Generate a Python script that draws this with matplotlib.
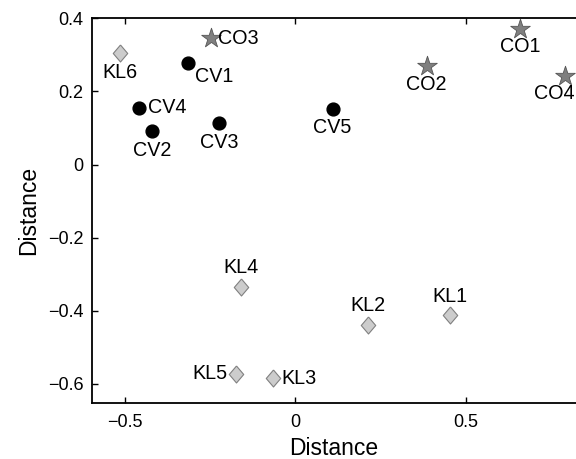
import matplotlib
matplotlib.use("Agg")
import matplotlib.pyplot as plt

plt.rcParams['font.family'] = ['Liberation Sans', 'DejaVu Sans']

cv_names = ["CV1", "CV2", "CV3", "CV4", "CV5"]
cv_x = [-0.316, -0.421, -0.223, -0.458, 0.109]
cv_y = [0.278, 0.092, 0.114, 0.155, 0.153]

co_names = ["CO1", "CO2", "CO3", "CO4"]
co_x = [0.658, 0.385, -0.247, 0.790]
co_y = [0.371, 0.269, 0.345, 0.242]

kl_names = ["KL1", "KL2", "KL3", "KL4", "KL5", "KL6"]
kl_x = [0.453, 0.213, -0.067, -0.161, -0.174, -0.515]
kl_y = [-0.412, -0.439, -0.585, -0.334, -0.572, 0.304]

# label placement: (dx_points, dy_points, ha, va)
place = {
    "CV1": (5, -3, "left", "top"),
    "CV2": (0, -7, "center", "top"),
    "CV3": (0, -7, "center", "top"),
    "CV4": (6, 0, "left", "center"),
    "CV5": (0, -7, "center", "top"),
    "CO1": (0, -6, "center", "top"),
    "CO2": (0, -6, "center", "top"),
    "CO3": (5, 0, "left", "center"),
    "CO4": (7, -6, "right", "top"),
    "KL1": (0, 7, "center", "bottom"),
    "KL2": (0, 7, "center", "bottom"),
    "KL3": (6, 0, "left", "center"),
    "KL4": (0, 7, "center", "bottom"),
    "KL5": (-6, 0, "right", "center"),
    "KL6": (0, -7, "center", "top"),
}

W, H = 576, 459
fig = plt.figure(figsize=(W / 100, H / 100), dpi=100)
left, right = 92 / W, 1.0
bottom, top = 1 - 403 / H, 1 - 18.3 / H
ax = fig.add_axes([left, bottom, right - left, top - bottom])

diamond = [(0, 1), (0.85, 0), (0, -1), (-0.85, 0), (0, 1)]

ax.scatter(cv_x, cv_y, s=85, marker='o', c='black', zorder=3)
ax.scatter(co_x, co_y, s=220, marker='*', c='#7f7f7f', edgecolors='#555555',
           linewidths=0.6, zorder=3)
ax.scatter(kl_x, kl_y, s=150, marker=diamond, c='#cccccc', edgecolors='#808080',
           linewidths=0.8, zorder=3)

for names, xs, ys in [(cv_names, cv_x, cv_y), (co_names, co_x, co_y), (kl_names, kl_x, kl_y)]:
    for n, x, y in zip(names, xs, ys):
        dx, dy, ha, va = place[n]
        ax.annotate(n, (x, y), xytext=(dx, dy), textcoords='offset points',
                    ha=ha, va=va, fontsize=14.2, color='black')

ax.set_xlim(-0.597, 0.823)
ax.set_ylim(-0.652, 0.4)
ax.set_xticks([-0.5, 0, 0.5])
ax.set_xticklabels(['\u22120.5', '0', '0.5'])
ax.set_yticks([-0.6, -0.4, -0.2, 0, 0.2, 0.4])
ax.set_yticklabels(['\u22120.6', '\u22120.4', '\u22120.2', '0', '0.2', '0.4'])
ax.tick_params(direction='in', length=4, width=1, labelsize=13, top=True, right=False)
ax.tick_params(axis='x', pad=8)
ax.tick_params(axis='y', pad=6)
ax.spines['right'].set_visible(False)
for s in ['left', 'bottom', 'top']:
    ax.spines[s].set_linewidth(1.3)

ax.set_xlabel('Distance', fontsize=16.5, labelpad=4)
ax.set_ylabel('Distance', fontsize=16.5, labelpad=6)

fig.savefig('out.png', dpi=100)
